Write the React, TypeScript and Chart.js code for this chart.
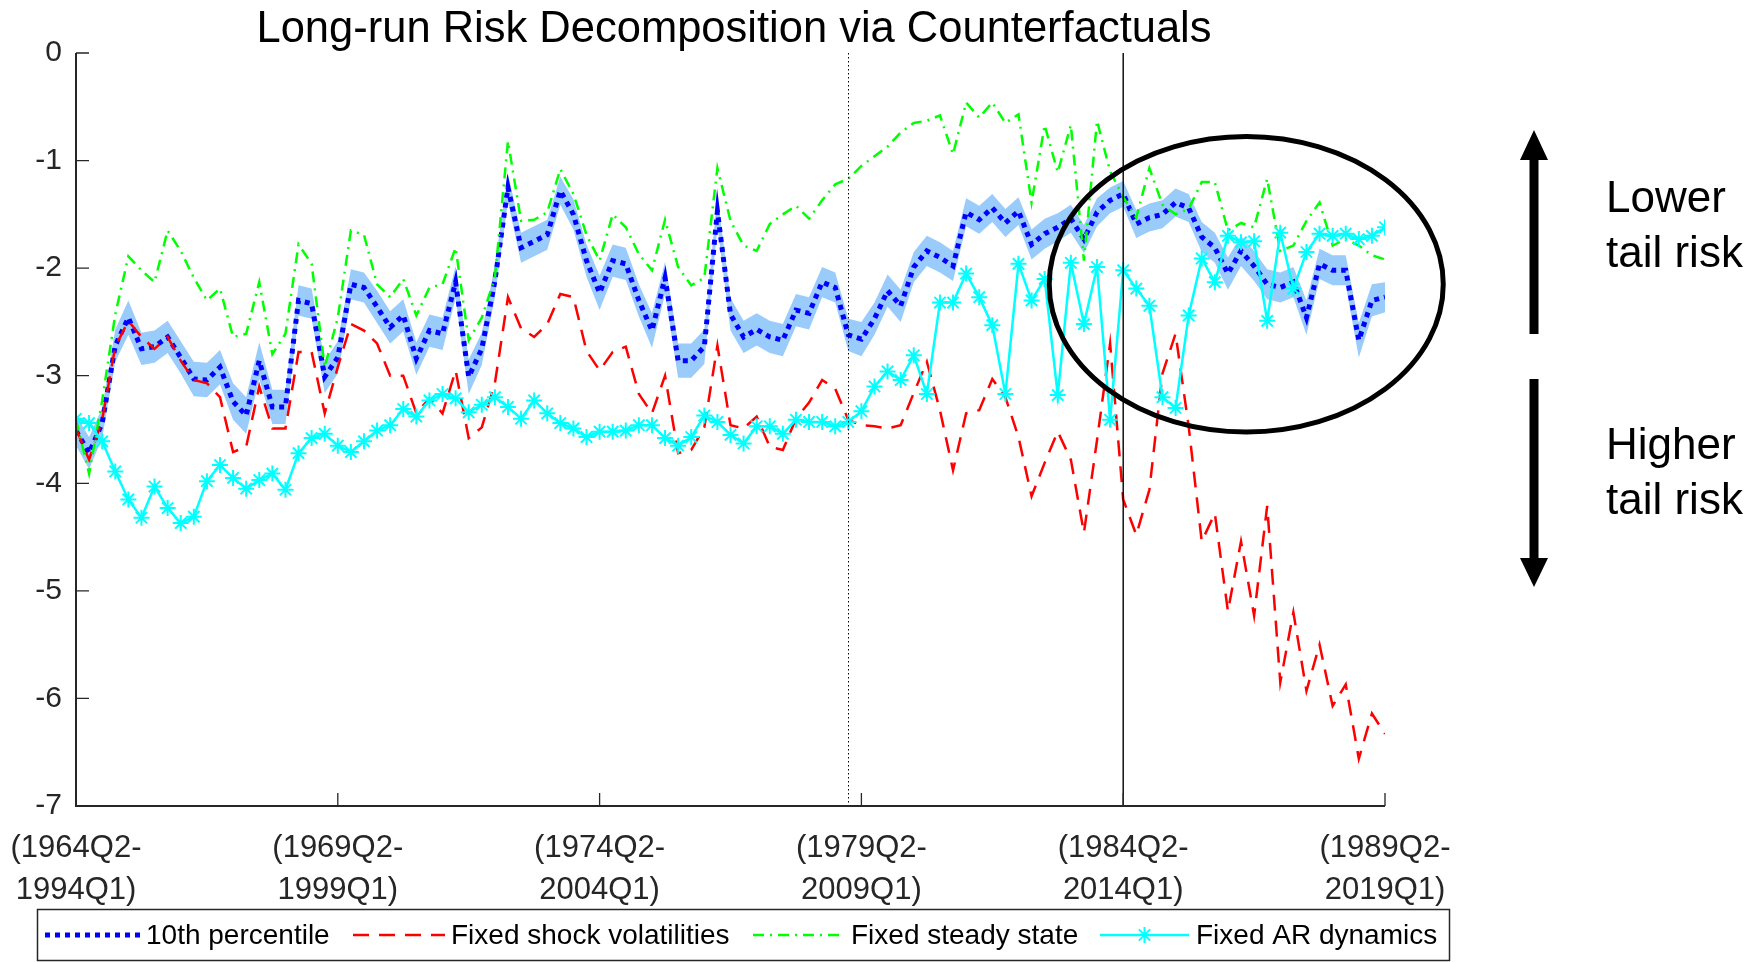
import { useEffect, useRef } from 'react';
import { Chart, registerables } from 'chart.js';

Chart.register(...registerables);

const FONT = '"Liberation Sans", Arial, Helvetica, sans-serif';
const TITLE = 'Long-run Risk Decomposition via Counterfactuals';

// Quarter index 0 = window (1964Q2-1994Q1) ... 100 = window (1989Q2-2019Q1)
const tenthPercentile = [
  -3.51, -3.72, -3.44, -2.72, -2.46, -2.75, -2.73, -2.64, -2.83, -3.03,
  -3.04, -2.92, -3.24, -3.37, -2.86, -3.29, -3.29, -2.30, -2.33, -3.01,
  -2.83, -2.15, -2.18, -2.36, -2.55, -2.44, -2.84, -2.58, -2.61, -2.13,
  -3.01, -2.75, -2.12, -1.25, -1.81, -1.75, -1.69, -1.28, -1.50, -1.93,
  -2.23, -1.93, -1.96, -2.30, -2.58, -2.09, -2.86, -2.86, -2.73, -1.47,
  -2.43, -2.64, -2.57, -2.64, -2.67, -2.39, -2.42, -2.13, -2.18, -2.62,
  -2.66, -2.47, -2.21, -2.35, -1.99, -1.84, -1.90, -1.98, -1.48, -1.55,
  -1.44, -1.58, -1.47, -1.78, -1.68, -1.62, -1.54, -1.73, -1.48, -1.37,
  -1.31, -1.59, -1.53, -1.50, -1.39, -1.44, -1.71, -1.81, -2.05, -1.84,
  -1.98, -2.15, -2.18, -2.13, -2.46, -1.96, -2.02, -2.02, -2.67, -2.30,
  -2.27,
];

const bandHalfWidth = [
  0.14, 0.15, 0.14, 0.15, 0.16, 0.15, 0.15, 0.15, 0.15, 0.16,
  0.16, 0.16, 0.17, 0.17, 0.17, 0.16, 0.16, 0.14, 0.14, 0.15,
  0.15, 0.14, 0.14, 0.15, 0.15, 0.15, 0.15, 0.15, 0.15, 0.15,
  0.16, 0.15, 0.15, 0.13, 0.14, 0.14, 0.14, 0.13, 0.14, 0.15,
  0.16, 0.15, 0.15, 0.15, 0.16, 0.15, 0.16, 0.16, 0.16, 0.14,
  0.15, 0.15, 0.15, 0.15, 0.15, 0.15, 0.15, 0.14, 0.14, 0.15,
  0.16, 0.15, 0.15, 0.15, 0.14, 0.14, 0.14, 0.14, 0.13, 0.13,
  0.13, 0.13, 0.13, 0.14, 0.14, 0.13, 0.13, 0.13, 0.13, 0.12,
  0.12, 0.13, 0.13, 0.13, 0.13, 0.13, 0.14, 0.14, 0.15, 0.14,
  0.14, 0.14, 0.14, 0.14, 0.16, 0.14, 0.14, 0.14, 0.16, 0.15,
  0.14,
];

const fixedShockVolatilities = [
  -3.49, -3.78, -3.41, -2.73, -2.49, -2.64, -2.75, -2.64, -2.86, -3.04,
  -3.07, -3.20, -3.71, -3.66, -3.10, -3.49, -3.49, -2.78, -2.78, -3.35,
  -2.92, -2.52, -2.58, -2.70, -3.00, -3.00, -3.35, -3.21, -3.35, -2.95,
  -3.58, -3.48, -3.07, -2.27, -2.56, -2.64, -2.52, -2.24, -2.27, -2.77,
  -2.95, -2.78, -2.73, -3.17, -3.35, -3.00, -3.72, -3.69, -3.48, -2.72,
  -3.46, -3.49, -3.38, -3.66, -3.69, -3.40, -3.25, -3.04, -3.12, -3.41,
  -3.46, -3.47, -3.49, -3.46, -3.16, -2.87, -3.32, -3.88, -3.35, -3.32,
  -3.03, -3.20, -3.57, -4.12, -3.81, -3.52, -3.78, -4.46, -3.60, -2.70,
  -4.15, -4.48, -4.06, -2.98, -2.61, -3.47, -4.54, -4.28, -5.19, -4.54,
  -5.23, -4.21, -5.85, -5.20, -5.93, -5.50, -6.07, -5.87, -6.56, -6.14,
  -6.33,
];

const fixedSteadyState = [
  -3.41, -3.91, -3.23, -2.43, -1.89, -2.02, -2.13, -1.65, -1.84, -2.09,
  -2.30, -2.19, -2.64, -2.61, -2.13, -2.80, -2.61, -1.78, -1.96, -2.92,
  -2.46, -1.65, -1.69, -2.15, -2.27, -2.10, -2.44, -2.18, -2.15, -1.81,
  -2.67, -2.46, -2.09, -0.82, -1.56, -1.55, -1.48, -1.08, -1.31, -1.69,
  -1.93, -1.50, -1.62, -1.87, -2.02, -1.55, -1.99, -2.16, -2.09, -1.07,
  -1.56, -1.79, -1.84, -1.59, -1.50, -1.42, -1.54, -1.37, -1.22, -1.17,
  -1.05, -0.96, -0.87, -0.74, -0.65, -0.63, -0.58, -0.94, -0.46, -0.60,
  -0.46, -0.65, -0.57, -1.39, -0.67, -1.11, -0.67, -1.93, -0.63, -1.10,
  -1.34, -1.53, -1.07, -1.41, -1.50, -1.45, -1.20, -1.20, -1.65, -1.58,
  -1.62, -1.17, -1.84, -1.79, -1.56, -1.39, -1.79, -1.73, -1.79, -1.88,
  -1.92,
];

const fixedARDynamics = [
  -3.40, -3.44, -3.61, -3.89, -4.15, -4.32, -4.03, -4.23, -4.37, -4.31,
  -3.98, -3.83, -3.95, -4.05, -3.97, -3.91, -4.06, -3.72, -3.58, -3.54,
  -3.65, -3.71, -3.61, -3.51, -3.46, -3.31, -3.38, -3.23, -3.17, -3.21,
  -3.34, -3.27, -3.20, -3.29, -3.40, -3.23, -3.35, -3.44, -3.49, -3.57,
  -3.52, -3.52, -3.51, -3.46, -3.46, -3.58, -3.65, -3.57, -3.37, -3.43,
  -3.55, -3.63, -3.47, -3.47, -3.54, -3.41, -3.43, -3.43, -3.47, -3.43,
  -3.33, -3.10, -2.96, -3.04, -2.81, -3.17, -2.32, -2.32, -2.05, -2.27,
  -2.53, -3.17, -1.96, -2.30, -2.10, -3.18, -1.95, -2.52, -1.99, -3.41,
  -2.02, -2.19, -2.35, -3.20, -3.30, -2.44, -1.91, -2.13, -1.70, -1.76,
  -1.75, -2.49, -1.67, -2.19, -1.85, -1.68, -1.70, -1.68, -1.73, -1.70,
  -1.62,
];

const xTickPositions = [0, 20, 40, 60, 80, 100];
const xTickStarts = ['1964Q2', '1969Q2', '1974Q2', '1979Q2', '1984Q2', '1989Q2'];
const xTickEnds = ['1994Q1', '1999Q1', '2004Q1', '2009Q1', '2014Q1', '2019Q1'];
const yTickValues = [0, -1, -2, -3, -4, -5, -6, -7];

const legendLabels = ['10th percentile', 'Fixed shock volatilities', 'Fixed steady state', 'Fixed AR dynamics'];

// reference markers (in data units)
const dottedLineAt = 59;
const solidLineAt = 80;
const ellipseCenter = { x: 89.4, y: -2.15 };
const ellipseRadius = { x: 15.05, y: 1.374 };

const BLUE = '#0000FF';
const RED = '#FF0000';
const GREEN = '#00FF00';
const CYAN = '#00FFFF';
const BAND = 'rgb(153, 204, 250)';
const AXIS = '#262626';

const BLUE_DASH = [5, 5];
const RED_DASH = [16, 10];
const GREEN_DASH = [11, 6, 2, 6];

function drawStar(ctx: CanvasRenderingContext2D, x: number, y: number, r: number) {
  ctx.beginPath();
  for (let k = 0; k < 4; k++) {
    const a = (k * Math.PI) / 4;
    ctx.moveTo(x + Math.cos(a) * r, y + Math.sin(a) * r);
    ctx.lineTo(x - Math.cos(a) * r, y - Math.sin(a) * r);
  }
  ctx.stroke();
}

export default function App() {
  const ref = useRef<HTMLCanvasElement>(null);

  useEffect(() => {
    const canvas = ref.current;
    if (!canvas) return;
    const toXY = (arr: number[]) => arr.map((v, i) => ({ x: i, y: v }));
    const upper = tenthPercentile.map((v, i) => v + bandHalfWidth[i]);
    const lower = tenthPercentile.map((v, i) => v - bandHalfWidth[i]);

    const overlay = {
      id: 'overlay',
      afterDraw(chart: any) {
        const { ctx, chartArea: ca, scales } = chart;
        const xs = scales.x;
        const ys = scales.y;
        ctx.save();

        // title
        ctx.fillStyle = '#000';
        ctx.font = `43.5px ${FONT}`;
        ctx.textAlign = 'center';
        ctx.textBaseline = 'alphabetic';
        ctx.fillText(TITLE, 734, 42);

        // vertical reference lines
        const xd = Math.round(xs.getPixelForValue(dottedLineAt)) + 0.5;
        ctx.strokeStyle = '#000';
        ctx.lineWidth = 1;
        ctx.setLineDash([1.5, 2.5]);
        ctx.beginPath();
        ctx.moveTo(xd, ca.top);
        ctx.lineTo(xd, ca.bottom);
        ctx.stroke();
        ctx.setLineDash([]);
        const xsol = xs.getPixelForValue(solidLineAt);
        ctx.lineWidth = 1.4;
        ctx.beginPath();
        ctx.moveTo(xsol, ca.top);
        ctx.lineTo(xsol, ca.bottom);
        ctx.stroke();

        // axes
        ctx.strokeStyle = AXIS;
        ctx.lineWidth = 2;
        ctx.beginPath();
        ctx.moveTo(ca.left, ca.top);
        ctx.lineTo(ca.left, ca.bottom);
        ctx.lineTo(ca.right, ca.bottom);
        ctx.stroke();
        ctx.lineWidth = 1.3;
        ctx.beginPath();
        for (const v of yTickValues) {
          const py = ys.getPixelForValue(v);
          ctx.moveTo(ca.left, py);
          ctx.lineTo(ca.left + 13, py);
        }
        for (const v of xTickPositions) {
          const px = xs.getPixelForValue(v);
          ctx.moveTo(px, ca.bottom);
          ctx.lineTo(px, ca.bottom - 13);
        }
        ctx.stroke();

        // ellipse highlight
        const cx = xs.getPixelForValue(ellipseCenter.x);
        const cy = ys.getPixelForValue(ellipseCenter.y);
        const rx = xs.getPixelForValue(ellipseCenter.x + ellipseRadius.x) - cx;
        const ry = cy - ys.getPixelForValue(ellipseCenter.y + ellipseRadius.y);
        ctx.strokeStyle = '#000';
        ctx.lineWidth = 5;
        ctx.beginPath();
        ctx.ellipse(cx, cy, rx, ry, 0, 0, Math.PI * 2);
        ctx.stroke();

        // arrows
        ctx.fillStyle = '#000';
        const ax = 1534;
        ctx.fillRect(ax - 4.5, 158, 9, 176);
        ctx.beginPath();
        ctx.moveTo(ax, 130);
        ctx.lineTo(ax + 14, 160);
        ctx.lineTo(ax - 14, 160);
        ctx.closePath();
        ctx.fill();
        ctx.fillRect(ax - 4.5, 379, 9, 181);
        ctx.beginPath();
        ctx.moveTo(ax, 587);
        ctx.lineTo(ax + 14, 558);
        ctx.lineTo(ax - 14, 558);
        ctx.closePath();
        ctx.fill();

        // side text
        ctx.font = `44px ${FONT}`;
        ctx.textAlign = 'left';
        ctx.textBaseline = 'alphabetic';
        ctx.fillText('Lower', 1606, 212);
        ctx.fillText('tail risk', 1606, 267);
        ctx.fillText('Higher', 1606, 459);
        ctx.fillText('tail risk', 1606, 514);

        // legend
        ctx.strokeStyle = AXIS;
        ctx.lineWidth = 1.5;
        ctx.strokeRect(37.5, 909.5, 1412, 51);
        const ly = 935;
        const samples = [
          { x0: 45, x1: 140, tx: 146, color: BLUE, dash: BLUE_DASH, w: 5, star: false },
          { x0: 353, x1: 445, tx: 451, color: RED, dash: RED_DASH, w: 2.5, star: false },
          { x0: 753, x1: 842, tx: 851, color: GREEN, dash: GREEN_DASH, w: 2.5, star: false },
          { x0: 1100, x1: 1189, tx: 1196, color: CYAN, dash: [] as number[], w: 2.5, star: true },
        ];
        ctx.font = `28px ${FONT}`;
        ctx.textBaseline = 'middle';
        samples.forEach((s, k) => {
          ctx.strokeStyle = s.color;
          ctx.lineWidth = s.w;
          ctx.lineCap = 'butt';
          ctx.setLineDash(s.dash);
          ctx.beginPath();
          ctx.moveTo(s.x0, ly);
          ctx.lineTo(s.x1, ly);
          ctx.stroke();
          ctx.setLineDash([]);
          if (s.star) {
            ctx.lineWidth = 2;
            drawStar(ctx, (s.x0 + s.x1) / 2, ly, 8);
          }
          ctx.fillStyle = '#000';
          ctx.fillText(legendLabels[k], s.tx, ly + 1);
        });

        ctx.restore();
      },
    };

    const chart = new Chart(canvas, {
      type: 'line',
      data: {
        datasets: [
          {
            label: 'band upper',
            data: toXY(upper),
            borderWidth: 0,
            borderColor: 'rgba(0,0,0,0)',
            pointRadius: 0,
            backgroundColor: BAND,
            fill: '+1',
            order: 10,
          },
          {
            label: 'band lower',
            data: toXY(lower),
            borderWidth: 0,
            borderColor: 'rgba(0,0,0,0)',
            pointRadius: 0,
            fill: false,
            order: 9,
          },
          {
            label: legendLabels[0],
            data: toXY(tenthPercentile),
            borderColor: BLUE,
            borderWidth: 5,
            borderDash: BLUE_DASH,
            borderCapStyle: 'butt',
            pointRadius: 0,
            fill: false,
            order: 4,
          },
          {
            label: legendLabels[1],
            data: toXY(fixedShockVolatilities),
            borderColor: RED,
            borderWidth: 2.5,
            borderDash: RED_DASH,
            pointRadius: 0,
            fill: false,
            order: 3,
          },
          {
            label: legendLabels[2],
            data: toXY(fixedSteadyState),
            borderColor: GREEN,
            borderWidth: 2.5,
            borderDash: GREEN_DASH,
            pointRadius: 0,
            fill: false,
            order: 2,
          },
          {
            label: legendLabels[3],
            data: toXY(fixedARDynamics),
            borderColor: CYAN,
            borderWidth: 2.5,
            pointStyle: 'star',
            pointRadius: 8,
            pointBorderWidth: 2,
            pointBorderColor: CYAN,
            pointBackgroundColor: CYAN,
            fill: false,
            order: 1,
          },
        ] as any,
      },
      options: {
        animation: false,
        responsive: false,
        events: [],
        layout: { padding: { left: 0, right: 371, top: 53, bottom: 0 } },
        plugins: {
          legend: { display: false },
          title: { display: false },
          tooltip: { enabled: false },
        },
        scales: {
          x: {
            type: 'linear',
            min: 0,
            max: 100,
            grid: { display: false, drawTicks: false },
            border: { display: false },
            afterBuildTicks: (s: any) => {
              s.ticks = xTickPositions.map((v) => ({ value: v }));
            },
            afterFit: (s: any) => {
              s.height = 156;
              s.paddingLeft = 0;
              s.paddingRight = 0;
            },
            ticks: {
              autoSkip: false,
              maxRotation: 0,
              minRotation: 0,
              padding: 22,
              color: AXIS,
              font: { family: FONT, size: 31, lineHeight: 1.35 },
              callback: (v: any) => {
                const k = xTickPositions.indexOf(Number(v));
                return k >= 0 ? ['(' + xTickStarts[k] + '-', xTickEnds[k] + ')'] : '';
              },
            },
          },
          y: {
            type: 'linear',
            min: -7,
            max: 0,
            grid: { display: false, drawTicks: false },
            border: { display: false },
            afterBuildTicks: (s: any) => {
              s.ticks = yTickValues.map((v) => ({ value: v }));
            },
            afterFit: (s: any) => {
              s.width = 76;
              s.paddingTop = 0;
              s.paddingBottom = 0;
            },
            ticks: {
              padding: 14,
              color: AXIS,
              font: { family: FONT, size: 30 },
              callback: (v: any) => String(Number(v) === 0 ? 0 : v),
            },
          },
        },
      } as any,
      plugins: [overlay],
    });

    return () => chart.destroy();
  }, []);

  return (
    <div style={{ position: 'fixed', left: 0, top: 0, width: 1756, height: 962, background: '#fff' }}>
      <canvas ref={ref} width={1756} height={962} style={{ display: 'block', width: 1756, height: 962 }} />
    </div>
  );
}
